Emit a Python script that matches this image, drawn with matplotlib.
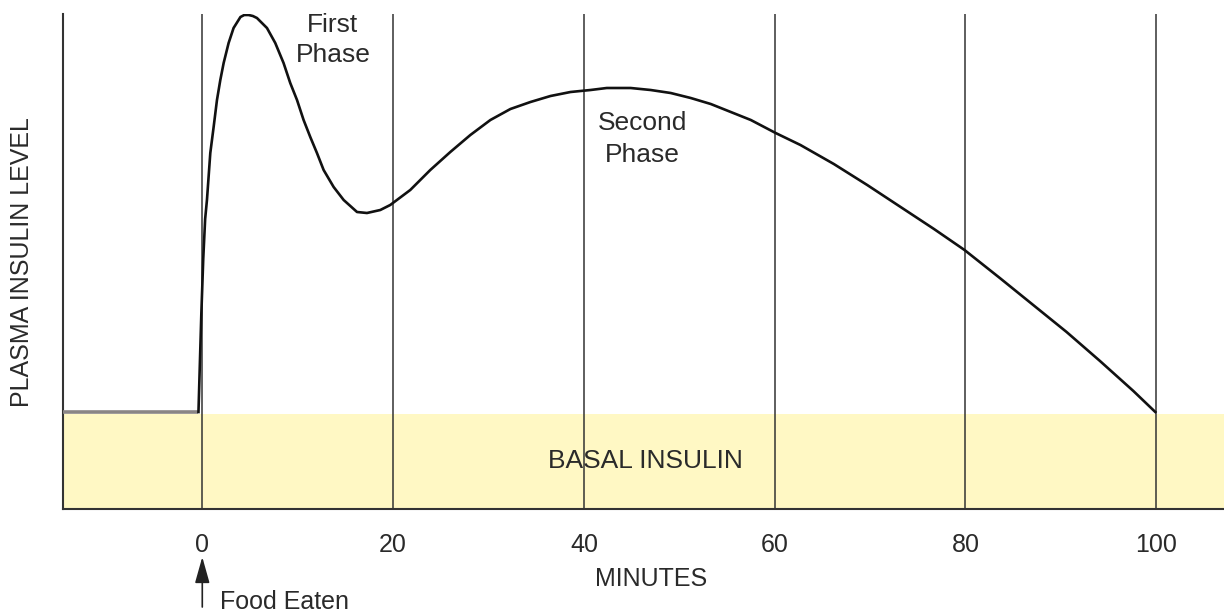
import matplotlib as mpl
mpl.use('Agg')
import matplotlib.pyplot as plt

plt.rcParams['font.family'] = ['Liberation Sans', 'DejaVu Sans']

# insulin curve (x = minutes, y = arbitrary level)
basal_x = [-14.6, -0.4]
basal_y = [97, 97]
curve_x = [-0.4, -0.3, -0.1, 0.1, 0.3, 0.49, 0.84, 1.19, 1.54, 1.89, 2.24, 2.76, 3.28,
           4.0, 4.4, 4.85, 5.3, 5.73, 6.78, 7.65, 8.52, 9.22, 9.93, 10.62, 11.32,
           12.02, 12.72, 13.77, 14.82, 16.22, 17.26, 18.66, 19.7, 21.8, 23.9, 26.0,
           28.1, 30.2, 32.3, 34.4, 36.5, 38.6, 40.7, 42.4, 44.9, 47.0, 49.1, 51.2,
           53.3, 55.4, 57.5, 60.1, 62.7, 66.2, 69.7, 73.2, 76.7, 79.9, 83.6, 87.1,
           90.6, 94.1, 97.6, 99.9]
curve_y = [97, 130, 195, 250, 290, 309, 356, 382, 409, 429, 446, 466, 481,
           492, 494, 494, 493, 491, 481, 466, 446, 426, 409, 389, 372,
           356, 339, 322, 309, 297, 296, 299, 304, 319, 339, 357,
           374, 389, 400, 407, 413, 417, 419, 421, 421, 419, 416, 411,
           405, 397, 389, 376, 364, 345, 324, 302, 280, 259, 231, 204,
           177, 148, 118, 97]
basal_top = 95
grid_x = [0, 20, 40, 60, 80, 100]
tick_labels = ['0', '20', '40', '60', '80', '100']

fig = plt.figure(figsize=(12.24, 6.14), dpi=100)
ax = fig.add_axes([63/1224, 105/614, 1 - 63/1224, 495/614])
ax.set_xlim(-14.6, 107.1)
ax.set_ylim(0, 495)

ax.axhspan(0, basal_top, color='#fff8c4', zorder=0, lw=0)
for gx in grid_x:
    ax.axvline(gx, color='#333333', lw=1.1, zorder=1)

ax.plot(basal_x, basal_y, color='#8a8585', lw=2.6, zorder=3, solid_capstyle='butt')
ax.plot(curve_x, curve_y, color='#111111', lw=1.9, zorder=4, solid_joinstyle='round')

for s in ['top', 'right']:
    ax.spines[s].set_visible(False)
for s in ['left', 'bottom']:
    ax.spines[s].set_color('#333333')
    ax.spines[s].set_linewidth(1.5)

ax.set_yticks([])
ax.set_xticks(grid_x)
ax.set_xticklabels(tick_labels)
ax.tick_params(axis='x', length=0, pad=17, labelsize=18, labelcolor='#2a2a2a')

txt = '#2a2a2a'
ax.text(13.7, 469, 'First\nPhase', ha='center', va='center', fontsize=19, color=txt, linespacing=1.33)
ax.text(46.1, 370, 'Second\nPhase', ha='center', va='center', fontsize=19, color=txt, linespacing=1.42)
ax.text(46.5, 48, 'BASAL INSULIN', ha='center', va='center', fontsize=19, color=txt)

tr = ax.get_xaxis_transform()
ax.text(47, -0.141, 'MINUTES', transform=tr, ha='center', va='center', fontsize=18, color=txt)
ax.text(1.9, -0.188, 'Food Eaten', transform=tr, ha='left', va='center', fontsize=18, color=txt)
ax.annotate('', xy=(0, -0.097), xytext=(0, -0.198), xycoords=tr, textcoords=tr,
            arrowprops=dict(arrowstyle='-|>,head_length=1.6,head_width=0.45',
                            lw=1.2, color='#222222', shrinkA=0, shrinkB=0),
            annotation_clip=False)

fig.text(22/1224, 1 - 262/614, 'PLASMA INSULIN LEVEL', rotation=90, ha='center',
         va='center', fontsize=18, color=txt)

plt.savefig('out.png', dpi=100)
plt.close()
